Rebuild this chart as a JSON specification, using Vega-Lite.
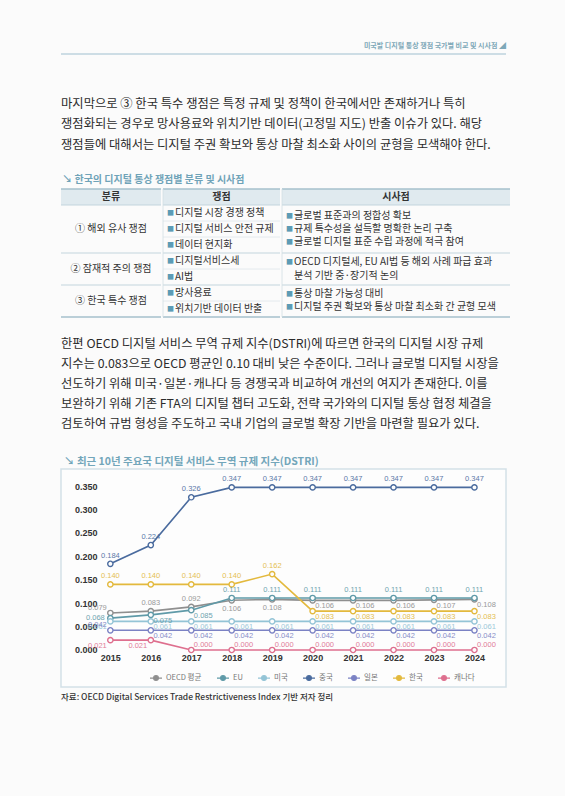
{
  "$schema": "https://vega.github.io/schema/vega-lite/v6.json",
  "background": "#fbfbfb",
  "padding": {"left": 60, "top": 42, "right": 60, "bottom": 90},
  "spacing": 0,
  "config": {"view": {"stroke": null}, "font": "Noto Sans CJK KR", "concat": {"spacing": 0}},
  "datasets": {
    "para1": [
      {"para": "p1", "line": 1, "text": "\u00a0\u00a0\u00a0마지막으로 ③ 한국 특수 쟁점은 특정 규제 및 정책이 한국에서만 존재하거나 특히"},
      {"para": "p1", "line": 2, "text": "쟁점화되는 경우로 망사용료와 위치기반 데이터(고정밀 지도) 반출 이슈가 있다. 해당"},
      {"para": "p1", "line": 3, "text": "쟁점들에 대해서는 디지털 주권 확보와 통상 마찰 최소화 사이의 균형을 모색해야 한다."}
    ],
    "para2": [
      {"para": "p2", "line": 1, "text": "\u00a0\u00a0\u00a0한편 OECD 디지털 서비스 무역 규제 지수(DSTRI)에 따르면 한국의 디지털 시장 규제"},
      {"para": "p2", "line": 2, "text": "지수는 0.083으로 OECD 평균인 0.10 대비 낮은 수준이다. 그러나 글로벌 디지털 시장을"},
      {"para": "p2", "line": 3, "text": "선도하기 위해 미국·일본·캐나다 등 경쟁국과 비교하여 개선의 여지가 존재한다. 이를"},
      {"para": "p2", "line": 4, "text": "보완하기 위해 기존 FTA의 디지털 챕터 고도화, 전략 국가와의 디지털 통상 협정 체결을"},
      {"para": "p2", "line": 5, "text": "검토하여 규범 형성을 주도하고 국내 기업의 글로벌 확장 기반을 마련할 필요가 있다."}
    ],
    "src": [
      {"para": "source", "text": "자료: OECD Digital Services Trade Restrictiveness Index 기반 저자 정리"}
    ],
    "tbl_text": [
      {"col": "분류", "r": 0.5, "kind": "head", "text": "분류"},
      {"col": "분류", "r": 2.5, "kind": "group", "text": "① 해외 유사 쟁점"},
      {"col": "분류", "r": 5, "kind": "group", "text": "② 잠재적 주의 쟁점"},
      {"col": "분류", "r": 7, "kind": "group", "text": "③ 한국 특수 쟁점"},
      {"col": "쟁점", "r": 0.5, "kind": "head", "text": "쟁점"},
      {"col": "쟁점", "r": 1.5, "kind": "item", "text": "디지털 시장 경쟁 정책"},
      {"col": "쟁점", "r": 2.5, "kind": "item", "text": "디지털 서비스 안전 규제"},
      {"col": "쟁점", "r": 3.5, "kind": "item", "text": "데이터 현지화"},
      {"col": "쟁점", "r": 4.5, "kind": "item", "text": "디지털서비스세"},
      {"col": "쟁점", "r": 5.5, "kind": "item", "text": "AI법"},
      {"col": "쟁점", "r": 6.5, "kind": "item", "text": "망사용료"},
      {"col": "쟁점", "r": 7.5, "kind": "item", "text": "위치기반 데이터 반출"},
      {"col": "시사점", "r": 0.5, "kind": "head", "text": "시사점"},
      {"col": "시사점", "r": 1.67, "kind": "item", "text": "글로벌 표준과의 정합성 확보"},
      {"col": "시사점", "r": 2.5, "kind": "item", "text": "규제 특수성을 설득할 명확한 논리 구축"},
      {"col": "시사점", "r": 3.33, "kind": "item", "text": "글로벌 디지털 표준 수립 과정에 적극 참여"},
      {"col": "시사점", "r": 4.58, "kind": "item", "text": "OECD 디지털세, EU AI법 등 해외 사례 파급 효과"},
      {"col": "시사점", "r": 5.46, "kind": "cont", "text": "분석 기반 중·장기적 논의"},
      {"col": "시사점", "r": 6.55, "kind": "item", "text": "통상 마찰 가능성 대비"},
      {"col": "시사점", "r": 7.4, "kind": "item", "text": "디지털 주권 확보와 통상 마찰 최소화 간 균형 모색"}
    ],
    "tbl_lines": [
      {"col": "분류", "edge": 0, "kind": "outer"}, {"col": "분류", "edge": 8, "kind": "outer"},
      {"col": "분류", "edge": 1, "kind": "group"}, {"col": "분류", "edge": 4, "kind": "group"}, {"col": "분류", "edge": 6, "kind": "group"},
      {"col": "쟁점", "edge": 0, "kind": "outer"}, {"col": "쟁점", "edge": 8, "kind": "outer"},
      {"col": "쟁점", "edge": 1, "kind": "group"}, {"col": "쟁점", "edge": 4, "kind": "group"}, {"col": "쟁점", "edge": 6, "kind": "group"},
      {"col": "쟁점", "edge": 2, "kind": "sub"}, {"col": "쟁점", "edge": 3, "kind": "sub"}, {"col": "쟁점", "edge": 5, "kind": "sub"}, {"col": "쟁점", "edge": 7, "kind": "sub"},
      {"col": "시사점", "edge": 0, "kind": "outer"}, {"col": "시사점", "edge": 8, "kind": "outer"},
      {"col": "시사점", "edge": 1, "kind": "group"}, {"col": "시사점", "edge": 4, "kind": "group"}, {"col": "시사점", "edge": 6, "kind": "group"}
    ],
    "dstri": [
      {"s": "OECD 평균", "year": 2015, "v": 0.079}, {"s": "OECD 평균", "year": 2016, "v": 0.083}, {"s": "OECD 평균", "year": 2017, "v": 0.092}, {"s": "OECD 평균", "year": 2018, "v": 0.106}, {"s": "OECD 평균", "year": 2019, "v": 0.108},
      {"s": "OECD 평균", "year": 2020, "v": 0.106}, {"s": "OECD 평균", "year": 2021, "v": 0.106}, {"s": "OECD 평균", "year": 2022, "v": 0.106}, {"s": "OECD 평균", "year": 2023, "v": 0.107}, {"s": "OECD 평균", "year": 2024, "v": 0.108},
      {"s": "EU", "year": 2015, "v": 0.068}, {"s": "EU", "year": 2016, "v": 0.075}, {"s": "EU", "year": 2017, "v": 0.085}, {"s": "EU", "year": 2018, "v": 0.111}, {"s": "EU", "year": 2019, "v": 0.111},
      {"s": "EU", "year": 2020, "v": 0.111}, {"s": "EU", "year": 2021, "v": 0.111}, {"s": "EU", "year": 2022, "v": 0.111}, {"s": "EU", "year": 2023, "v": 0.111}, {"s": "EU", "year": 2024, "v": 0.111},
      {"s": "미국", "year": 2015, "v": 0.061}, {"s": "미국", "year": 2016, "v": 0.061}, {"s": "미국", "year": 2017, "v": 0.061}, {"s": "미국", "year": 2018, "v": 0.061}, {"s": "미국", "year": 2019, "v": 0.061},
      {"s": "미국", "year": 2020, "v": 0.061}, {"s": "미국", "year": 2021, "v": 0.061}, {"s": "미국", "year": 2022, "v": 0.061}, {"s": "미국", "year": 2023, "v": 0.061}, {"s": "미국", "year": 2024, "v": 0.061},
      {"s": "중국", "year": 2015, "v": 0.184}, {"s": "중국", "year": 2016, "v": 0.224}, {"s": "중국", "year": 2017, "v": 0.326}, {"s": "중국", "year": 2018, "v": 0.347}, {"s": "중국", "year": 2019, "v": 0.347},
      {"s": "중국", "year": 2020, "v": 0.347}, {"s": "중국", "year": 2021, "v": 0.347}, {"s": "중국", "year": 2022, "v": 0.347}, {"s": "중국", "year": 2023, "v": 0.347}, {"s": "중국", "year": 2024, "v": 0.347},
      {"s": "일본", "year": 2015, "v": 0.042}, {"s": "일본", "year": 2016, "v": 0.042}, {"s": "일본", "year": 2017, "v": 0.042}, {"s": "일본", "year": 2018, "v": 0.042}, {"s": "일본", "year": 2019, "v": 0.042},
      {"s": "일본", "year": 2020, "v": 0.042}, {"s": "일본", "year": 2021, "v": 0.042}, {"s": "일본", "year": 2022, "v": 0.042}, {"s": "일본", "year": 2023, "v": 0.042}, {"s": "일본", "year": 2024, "v": 0.042},
      {"s": "한국", "year": 2015, "v": 0.140}, {"s": "한국", "year": 2016, "v": 0.140}, {"s": "한국", "year": 2017, "v": 0.140}, {"s": "한국", "year": 2018, "v": 0.140}, {"s": "한국", "year": 2019, "v": 0.162},
      {"s": "한국", "year": 2020, "v": 0.083}, {"s": "한국", "year": 2021, "v": 0.083}, {"s": "한국", "year": 2022, "v": 0.083}, {"s": "한국", "year": 2023, "v": 0.083}, {"s": "한국", "year": 2024, "v": 0.083},
      {"s": "캐나다", "year": 2015, "v": 0.021}, {"s": "캐나다", "year": 2016, "v": 0.021}, {"s": "캐나다", "year": 2017, "v": 0.000}, {"s": "캐나다", "year": 2018, "v": 0.000}, {"s": "캐나다", "year": 2019, "v": 0.000},
      {"s": "캐나다", "year": 2020, "v": 0.000}, {"s": "캐나다", "year": 2021, "v": 0.000}, {"s": "캐나다", "year": 2022, "v": 0.000}, {"s": "캐나다", "year": 2023, "v": 0.000}, {"s": "캐나다", "year": 2024, "v": 0.000}
    ]
  },
  "vconcat": [
    {
      "width": 445, "height": 2,
      "view": {"fill": "#cddde5", "stroke": null},
      "title": {"text": "미국발 디지털 통상 쟁점 국가별 비교 및 시사점 ◢", "anchor": "end", "fontSize": 7, "fontWeight": "bold", "color": "#7ea8b8", "offset": 4},
      "data": {"values": [{"t": ""}]},
      "mark": {"type": "text", "fontSize": 1},
      "encoding": {"text": {"field": "t"}}
    },
    {
      "width": 445, "height": 119.5,
      "view": {"fill": "#fbfbfb", "stroke": null},
      "data": {"name": "para1"},
      "mark": {"type": "text", "align": "left", "baseline": "middle", "fontSize": 12.3, "color": "#2b2b2b"},
      "encoding": {
        "x": {"field": "para", "type": "nominal", "bandPosition": 0, "scale": {"type": "band", "paddingInner": 0, "paddingOuter": 0}, "axis": null},
        "y": {"field": "line", "type": "quantitative", "scale": {"domain": [-1.366, 4.463], "reverse": true, "nice": false, "zero": false}, "axis": null},
        "text": {"field": "text"}
      }
    },
    {
      "title": {"text": "↘ 한국의 디지털 통상 쟁점별 분류 및 시사점", "anchor": "start", "fontSize": 10, "fontWeight": "bold", "color": "#6fa3b8", "offset": 3, "dx": 2},
      "spacing": 0,
      "hconcat": [
        {
          "width": 100, "height": 128, "view": {"fill": "#fbfbfb", "stroke": null},
          "layer": [
            {"data": {"name": "tbl_text"}, "transform": [{"filter": "datum.col == '분류' && datum.kind == 'head'"}],
             "mark": {"type": "rect", "fill": "#e0eaef"},
             "encoding": {"x": {"field": "col", "type": "nominal", "scale": {"type": "band", "paddingInner": 0, "paddingOuter": 0}, "axis": null},
                          "y": {"datum": 0, "type": "quantitative", "scale": {"domain": [0, 8], "reverse": true, "nice": false, "zero": false}, "axis": null}, "y2": {"datum": 1}}},
            {"data": {"name": "tbl_lines"}, "transform": [{"filter": "datum.col == '분류' && datum.kind == 'group'"}],
             "mark": {"type": "rule", "color": "#c3d5dd", "strokeWidth": 1},
             "encoding": {"y": {"field": "edge", "type": "quantitative", "scale": {"domain": [0, 8], "reverse": true, "nice": false, "zero": false}, "axis": null}}},
            {"data": {"name": "tbl_lines"}, "transform": [{"filter": "datum.col == '분류' && datum.kind == 'outer'"}],
             "mark": {"type": "rule", "color": "#a6c1cd", "strokeWidth": 1.6},
             "encoding": {"y": {"field": "edge", "type": "quantitative", "scale": {"domain": [0, 8], "reverse": true, "nice": false, "zero": false}, "axis": null}}},
            {"data": {"name": "tbl_text"}, "transform": [{"filter": "datum.col == '분류' && datum.kind == 'head'"}],
             "mark": {"type": "text", "align": "center", "baseline": "middle", "fontSize": 10, "fontWeight": "bold", "color": "#333333"},
             "encoding": {"x": {"field": "col", "type": "nominal", "bandPosition": 0.5, "scale": {"type": "band", "paddingInner": 0, "paddingOuter": 0}, "axis": null},
                          "y": {"field": "r", "type": "quantitative", "scale": {"domain": [0, 8], "reverse": true, "nice": false, "zero": false}, "axis": null},
                          "text": {"field": "text"}}},
            {"data": {"name": "tbl_text"}, "transform": [{"filter": "datum.col == '분류' && datum.kind == 'group'"}],
             "mark": {"type": "text", "align": "center", "baseline": "middle", "fontSize": 10, "color": "#333333"},
             "encoding": {"x": {"field": "col", "type": "nominal", "bandPosition": 0.5, "scale": {"type": "band", "paddingInner": 0, "paddingOuter": 0}, "axis": null},
                          "y": {"field": "r", "type": "quantitative", "scale": {"domain": [0, 8], "reverse": true, "nice": false, "zero": false}, "axis": null},
                          "text": {"field": "text"}}}
          ]
        },
        {
          "width": 117, "height": 128, "view": {"fill": "#fbfbfb", "stroke": null},
          "layer": [
            {"data": {"name": "tbl_text"}, "transform": [{"filter": "datum.col == '쟁점' && datum.kind == 'head'"}],
             "mark": {"type": "rect", "fill": "#e0eaef"},
             "encoding": {"x": {"field": "col", "type": "nominal", "scale": {"type": "band", "paddingInner": 0, "paddingOuter": 0}, "axis": null},
                          "y": {"datum": 0, "type": "quantitative", "scale": {"domain": [0, 8], "reverse": true, "nice": false, "zero": false}, "axis": null}, "y2": {"datum": 1}}},
            {"data": {"name": "tbl_lines"}, "transform": [{"filter": "datum.col == '쟁점' && datum.kind == 'sub'"}],
             "mark": {"type": "rule", "color": "#dfe7ec", "strokeWidth": 0.8},
             "encoding": {"y": {"field": "edge", "type": "quantitative", "scale": {"domain": [0, 8], "reverse": true, "nice": false, "zero": false}, "axis": null}}},
            {"data": {"name": "tbl_lines"}, "transform": [{"filter": "datum.col == '쟁점' && datum.kind == 'group'"}],
             "mark": {"type": "rule", "color": "#c3d5dd", "strokeWidth": 1},
             "encoding": {"y": {"field": "edge", "type": "quantitative", "scale": {"domain": [0, 8], "reverse": true, "nice": false, "zero": false}, "axis": null}}},
            {"data": {"name": "tbl_lines"}, "transform": [{"filter": "datum.col == '쟁점' && datum.kind == 'outer'"}],
             "mark": {"type": "rule", "color": "#a6c1cd", "strokeWidth": 1.6},
             "encoding": {"y": {"field": "edge", "type": "quantitative", "scale": {"domain": [0, 8], "reverse": true, "nice": false, "zero": false}, "axis": null}}},
            {"data": {"name": "tbl_text"}, "transform": [{"filter": "datum.col == '쟁점' && datum.kind == 'head'"}],
             "mark": {"type": "rule", "color": "#d3dfe5", "strokeWidth": 0.8},
             "encoding": {"x": {"field": "col", "type": "nominal", "bandPosition": 0, "scale": {"type": "band", "paddingInner": 0, "paddingOuter": 0}, "axis": null}}},
            {"data": {"name": "tbl_text"}, "transform": [{"filter": "datum.col == '쟁점' && datum.kind == 'head'"}],
             "mark": {"type": "text", "align": "center", "baseline": "middle", "fontSize": 10, "fontWeight": "bold", "color": "#333333"},
             "encoding": {"x": {"field": "col", "type": "nominal", "bandPosition": 0.5, "scale": {"type": "band", "paddingInner": 0, "paddingOuter": 0}, "axis": null},
                          "y": {"field": "r", "type": "quantitative", "scale": {"domain": [0, 8], "reverse": true, "nice": false, "zero": false}, "axis": null},
                          "text": {"field": "text"}}},
            {"data": {"name": "tbl_text"}, "transform": [{"filter": "datum.col == '쟁점' && datum.kind == 'item'"}],
             "mark": {"type": "text", "align": "left", "baseline": "middle", "fontSize": 7, "color": "#5c9bb5", "text": "■", "dx": 4},
             "encoding": {"x": {"field": "col", "type": "nominal", "bandPosition": 0, "scale": {"type": "band", "paddingInner": 0, "paddingOuter": 0}, "axis": null},
                          "y": {"field": "r", "type": "quantitative", "scale": {"domain": [0, 8], "reverse": true, "nice": false, "zero": false}, "axis": null}}},
            {"data": {"name": "tbl_text"}, "transform": [{"filter": "datum.col == '쟁점' && (datum.kind == 'item' || datum.kind == 'cont')"}],
             "mark": {"type": "text", "align": "left", "baseline": "middle", "fontSize": 10, "color": "#333333", "dx": 12},
             "encoding": {"x": {"field": "col", "type": "nominal", "bandPosition": 0, "scale": {"type": "band", "paddingInner": 0, "paddingOuter": 0}, "axis": null},
                          "y": {"field": "r", "type": "quantitative", "scale": {"domain": [0, 8], "reverse": true, "nice": false, "zero": false}, "axis": null},
                          "text": {"field": "text"}}}
          ]
        },
        {
          "width": 228, "height": 128, "view": {"fill": "#fbfbfb", "stroke": null},
          "layer": [
            {"data": {"name": "tbl_text"}, "transform": [{"filter": "datum.col == '시사점' && datum.kind == 'head'"}],
             "mark": {"type": "rect", "fill": "#e0eaef"},
             "encoding": {"x": {"field": "col", "type": "nominal", "scale": {"type": "band", "paddingInner": 0, "paddingOuter": 0}, "axis": null},
                          "y": {"datum": 0, "type": "quantitative", "scale": {"domain": [0, 8], "reverse": true, "nice": false, "zero": false}, "axis": null}, "y2": {"datum": 1}}},
            {"data": {"name": "tbl_lines"}, "transform": [{"filter": "datum.col == '시사점' && datum.kind == 'group'"}],
             "mark": {"type": "rule", "color": "#c3d5dd", "strokeWidth": 1},
             "encoding": {"y": {"field": "edge", "type": "quantitative", "scale": {"domain": [0, 8], "reverse": true, "nice": false, "zero": false}, "axis": null}}},
            {"data": {"name": "tbl_lines"}, "transform": [{"filter": "datum.col == '시사점' && datum.kind == 'outer'"}],
             "mark": {"type": "rule", "color": "#a6c1cd", "strokeWidth": 1.6},
             "encoding": {"y": {"field": "edge", "type": "quantitative", "scale": {"domain": [0, 8], "reverse": true, "nice": false, "zero": false}, "axis": null}}},
            {"data": {"name": "tbl_text"}, "transform": [{"filter": "datum.col == '시사점' && datum.kind == 'head'"}],
             "mark": {"type": "rule", "color": "#d3dfe5", "strokeWidth": 0.8},
             "encoding": {"x": {"field": "col", "type": "nominal", "bandPosition": 0, "scale": {"type": "band", "paddingInner": 0, "paddingOuter": 0}, "axis": null}}},
            {"data": {"name": "tbl_text"}, "transform": [{"filter": "datum.col == '시사점' && datum.kind == 'head'"}],
             "mark": {"type": "text", "align": "center", "baseline": "middle", "fontSize": 10, "fontWeight": "bold", "color": "#333333"},
             "encoding": {"x": {"field": "col", "type": "nominal", "bandPosition": 0.5, "scale": {"type": "band", "paddingInner": 0, "paddingOuter": 0}, "axis": null},
                          "y": {"field": "r", "type": "quantitative", "scale": {"domain": [0, 8], "reverse": true, "nice": false, "zero": false}, "axis": null},
                          "text": {"field": "text"}}},
            {"data": {"name": "tbl_text"}, "transform": [{"filter": "datum.col == '시사점' && datum.kind == 'item'"}],
             "mark": {"type": "text", "align": "left", "baseline": "middle", "fontSize": 7, "color": "#5c9bb5", "text": "■", "dx": 4},
             "encoding": {"x": {"field": "col", "type": "nominal", "bandPosition": 0, "scale": {"type": "band", "paddingInner": 0, "paddingOuter": 0}, "axis": null},
                          "y": {"field": "r", "type": "quantitative", "scale": {"domain": [0, 8], "reverse": true, "nice": false, "zero": false}, "axis": null}}},
            {"data": {"name": "tbl_text"}, "transform": [{"filter": "datum.col == '시사점' && (datum.kind == 'item' || datum.kind == 'cont')"}],
             "mark": {"type": "text", "align": "left", "baseline": "middle", "fontSize": 10, "color": "#333333", "dx": 12},
             "encoding": {"x": {"field": "col", "type": "nominal", "bandPosition": 0, "scale": {"type": "band", "paddingInner": 0, "paddingOuter": 0}, "axis": null},
                          "y": {"field": "r", "type": "quantitative", "scale": {"domain": [0, 8], "reverse": true, "nice": false, "zero": false}, "axis": null},
                          "text": {"field": "text"}}}
          ]
        }
      ]
    },
    {
      "width": 445, "height": 137,
      "view": {"fill": "#fbfbfb", "stroke": null},
      "data": {"name": "para2"},
      "mark": {"type": "text", "align": "left", "baseline": "middle", "fontSize": 12.3, "color": "#2b2b2b"},
      "encoding": {
        "x": {"field": "para", "type": "nominal", "bandPosition": 0, "scale": {"type": "band", "paddingInner": 0, "paddingOuter": 0}, "axis": null},
        "y": {"field": "line", "type": "quantitative", "scale": {"domain": [-0.335, 6.567], "reverse": true, "nice": false, "zero": false}, "axis": null},
        "text": {"field": "text"}
      }
    },
    {
      "width": 445, "height": 218,
      "view": {"stroke": "#d3e1e8", "strokeWidth": 1.5, "fill": "#fdfdfd"},
      "title": {"text": "↘ 최근 10년 주요국 디지털 서비스 무역 규제 지수(DSTRI)", "anchor": "start", "fontSize": 10.5, "fontWeight": "bold", "color": "#72a6ba", "offset": 2, "dx": 3},
      "data": {"name": "dstri"},
      "encoding": {
        "x": {"field": "year", "type": "ordinal", "scale": {"type": "point", "padding": 1.205, "align": 0.61},
              "axis": {"orient": "bottom", "offset": -37, "labelPadding": 3, "ticks": false, "domain": false, "grid": false, "title": null, "labelAngle": 0, "labelFont": "Liberation Sans", "labelFontSize": 9, "labelFontWeight": "bold", "labelColor": "#333333"}},
        "y": {"field": "v", "type": "quantitative", "scale": {"domain": [-0.079, 0.3863], "nice": false, "zero": false},
              "axis": {"orient": "left", "offset": -38, "values": [0, 0.05, 0.1, 0.15, 0.2, 0.25, 0.3, 0.35], "format": ".3f", "labelPadding": 2, "ticks": false, "domain": false, "grid": false, "title": null, "labelFont": "Liberation Sans", "labelFontSize": 9, "labelFontWeight": "bold", "labelColor": "#333333"}},
        "color": {"field": "s", "type": "nominal",
                  "scale": {"domain": ["OECD 평균", "EU", "미국", "중국", "일본", "한국", "캐나다"], "range": ["#8f8f8f", "#5f9aa8", "#94c4d6", "#4a6b9e", "#7b82c4", "#e3b93d", "#de6f8e"]},
                  "legend": {"orient": "none", "legendX": 88, "legendY": 618, "direction": "horizontal", "columns": 7, "title": null,
                             "symbolType": "M-1,0H-0.4M0.4,0H1M0.4,0A0.4,0.4,0,1,1,-0.4,0A0.4,0.4,0,1,1,0.4,0", "symbolSize": 144, "symbolStrokeWidth": 1.2,
                             "symbolFillColor": "transparent", "labelFontSize": 7.5, "labelColor": "#777777", "labelFont": "Noto Sans CJK KR", "columnPadding": 12, "labelOffset": 3}}
      },
      "layer": [
        {"mark": {"type": "line", "strokeWidth": 1.6}},
        {"mark": {"type": "point", "filled": false, "fill": "#fdfdfd", "size": 28, "strokeWidth": 1.4, "opacity": 1}},
        {"transform": [{"filter": "datum.s == '중국' || (datum.s == '한국' && datum.year <= 2019) || (datum.s == 'EU' && datum.year >= 2018) || (datum.s == 'OECD 평균' && (datum.year == 2016 || datum.year == 2017))"}],
         "mark": {"type": "text", "fontSize": 7.5, "font": "Liberation Sans", "dy": -8, "opacity": 0.9},
         "encoding": {"text": {"field": "v", "format": ".3f"}}},
        {"transform": [{"filter": "(datum.s == '한국' && datum.year >= 2020) || (datum.s == 'EU' && (datum.year == 2016 || datum.year == 2017)) || (datum.s == 'OECD 평균' && datum.year >= 2020) || ((datum.s == '미국' || datum.s == '일본') && datum.year >= 2016)"}],
         "mark": {"type": "text", "fontSize": 7.5, "font": "Liberation Sans", "dx": 12, "dy": 6, "opacity": 0.9},
         "encoding": {"text": {"field": "v", "format": ".3f"}}},
        {"transform": [{"filter": "datum.s == 'OECD 평균' && (datum.year == 2018 || datum.year == 2019)"}],
         "mark": {"type": "text", "fontSize": 7.5, "font": "Liberation Sans", "dy": 9, "opacity": 0.9},
         "encoding": {"text": {"field": "v", "format": ".3f"}}},
        {"transform": [{"filter": "datum.s == 'EU' && datum.year == 2015"}],
         "mark": {"type": "text", "fontSize": 7.5, "font": "Liberation Sans", "dx": -15, "opacity": 0.9},
         "encoding": {"text": {"field": "v", "format": ".3f"}}},
        {"transform": [{"filter": "(datum.s == '미국' && datum.year == 2015) || (datum.s == '캐나다' && datum.year <= 2016)"}],
         "mark": {"type": "text", "fontSize": 7.5, "font": "Liberation Sans", "dx": -13, "dy": 6, "opacity": 0.9},
         "encoding": {"text": {"field": "v", "format": ".3f"}}},
        {"transform": [{"filter": "(datum.s == 'OECD 평균' || datum.s == '일본') && datum.year == 2015"}],
         "mark": {"type": "text", "fontSize": 7.5, "font": "Liberation Sans", "dx": -13, "dy": -5, "opacity": 0.9},
         "encoding": {"text": {"field": "v", "format": ".3f"}}},
        {"transform": [{"filter": "datum.s == '캐나다' && datum.year >= 2017"}],
         "mark": {"type": "text", "fontSize": 7.5, "font": "Liberation Sans", "dx": 12, "dy": -5, "opacity": 0.9},
         "encoding": {"text": {"field": "v", "format": ".3f"}}}
      ]
    },
    {
      "width": 445, "height": 18,
      "view": {"fill": "#fbfbfb", "stroke": null},
      "data": {"name": "src"},
      "mark": {"type": "text", "align": "left", "baseline": "middle", "fontSize": 8.5, "fontWeight": 500, "color": "#333333"},
      "encoding": {
        "x": {"field": "para", "type": "nominal", "bandPosition": 0, "scale": {"type": "band", "paddingInner": 0, "paddingOuter": 0}, "axis": null},
        "text": {"field": "text"}
      }
    }
  ]
}
